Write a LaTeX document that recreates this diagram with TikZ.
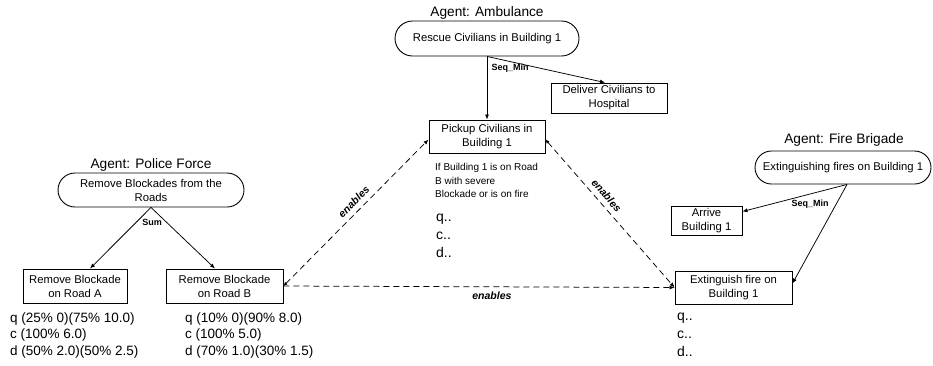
\documentclass[tikz,border=0pt]{standalone}
\usepackage{fontspec}
\setmainfont{Liberation Sans}
\usetikzlibrary{arrows.meta,shapes.misc,calc}
\begin{document}
\begin{tikzpicture}[x=1pt,y=-1pt,
  boxtext/.style={font=\fontsize{11.3}{14}\selectfont, align=center},
  task/.style={draw, line width=0.9pt, rectangle, inner sep=0pt, boxtext},
  goal/.style={draw, line width=0.9pt, rounded rectangle, inner sep=0pt, boxtext},
  agent/.style={font=\fontsize{13.7}{16}\selectfont, inner sep=0pt},
  rel/.style={font=\bfseries\fontsize{9}{10}\selectfont, inner sep=0pt},
  link/.style={line width=0.75pt, -{Latex[length=5pt,width=4pt]}},
  enab/.style={line width=0.75pt, dash pattern=on 6pt off 4pt},
  enablab/.style={font=\bfseries\itshape\fontsize{10.5}{12}\selectfont, inner sep=1pt},
  stats/.style={font=\fontsize{13.5}{16.5}\selectfont, align=left, anchor=west, inner sep=0pt},
  dots/.style={font=\fontsize{14}{18}\selectfont, align=left, anchor=west, inner sep=0pt},
  note/.style={font=\fontsize{10}{13.5}\selectfont, align=left, anchor=west, inner sep=0pt},
]
\useasboundingbox (0,0) rectangle (933,365);

% Ambulance
\node[agent] (agA) at (487,13) {Agent: Ambulance};
\node[goal, minimum width=184pt, minimum height=35pt] (rescue) at (487,38.5) {Rescue Civilians in Building 1};
\node[task, minimum width=116pt, minimum height=30pt] (deliver) at (609,98) {Deliver Civilians to\\Hospital};
\node[task, minimum width=116pt, minimum height=33pt] (pick) at (487,136.5) {Pickup Civilians in\\Building 1};
\node[rel] (seqA) at (510,68) {Seq\_Min};
\draw[link] (rescue.south) -- (pick.north);
\draw[link] (rescue.south) -- ($(deliver.north)+(-4,0)$);
\node[note] (picknote) at (435,180.5) {If Building 1 is on Road\\B with severe\\Blockade or is on fire};
\node[dots] (pickqcd) at (436,236) {q..\\c..\\d..};

% Police
\node[agent] (agP) at (151,165) {Agent: Police Force};
\node[goal, minimum width=186pt, minimum height=34pt] (police) at (151,190) {Remove Blockades from the\\Roads};
\node[task, minimum width=104pt, minimum height=34pt] (roadA) at (75,286) {Remove Blockade\\on Road A};
\node[task, minimum width=117pt, minimum height=34pt] (roadB) at (224.5,286) {Remove Blockade\\on Road B};
\node[rel] (sum) at (152,222) {Sum};
\draw[link] (police.south) -- ($(roadA.north)+(15,0)$);
\draw[link] (police.south) -- ($(roadB.north)+(-9.5,0)$);
\node[stats] (statsA) at (10,335) {q (25\% 0)(75\% 10.0)\\c (100\% 6.0)\\d (50\% 2.0)(50\% 2.5)};
\node[stats] (statsB) at (185,335) {q (10\% 0)(90\% 8.0)\\c (100\% 5.0)\\d (70\% 1.0)(30\% 1.5)};

% Fire brigade
\node[agent] (agF) at (844,140) {Agent: Fire Brigade};
\node[goal, minimum width=176pt, minimum height=33pt] (fire) at (843,167.5) {Extinguishing fires on Building 1};
\node[task, minimum width=71pt, minimum height=29pt] (arrive) at (706.5,220.5) {Arrive\\Building 1};
\node[task, minimum width=117pt, minimum height=33pt] (ext) at (733.5,287.5) {Extinguish fire on\\Building 1};
\node[rel] (seqF) at (810,204) {Seq\_Min};
\draw[link] ($(fire.south)+(4,0)$) -- ($(arrive.east)+(0,-9)$);
\draw[link] ($(fire.south)+(4,0)$) -- ($(ext.east)+(0,-4)$);
\node[dots] (extqcd) at (677,335) {q..\\c..\\d..};

% enables
\draw[enab, {Latex[length=4pt,width=3.5pt]}-{Latex[length=5pt,width=4pt]}] (roadB.east) -- node[enablab, sloped, above=4pt, pos=0.53] (en1) {enables} ($(pick.west)+(0,3)$);
\draw[enab, {Latex[length=4pt,width=3.5pt]}-{Latex[length=5pt,width=4pt]}] ($(pick.east)+(0,3)$) -- node[enablab, sloped, above=4pt, pos=0.42] (en2) {enables} (ext.west);
\draw[enab, -{Latex[length=5pt,width=4pt]}] (roadB.east) -- node[enablab, below=4pt, pos=0.533] (en3) {enables} (ext.west);
\end{tikzpicture}
\end{document}
